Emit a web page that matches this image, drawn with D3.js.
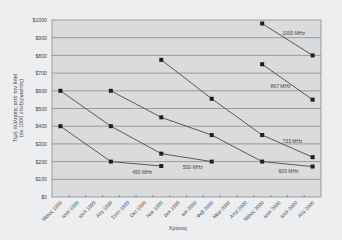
<!DOCTYPE html>
<html>
<head>
<meta charset="utf-8">
<script src="https://cdn.jsdelivr.net/npm/d3@7"></script>
<style>
  body { margin: 0; background: #eceef0; }
  text { font-family: "Liberation Sans", Arial, sans-serif; fill: #444; }
</style>
</head>
<body>
<div id="graph"></div>
<script>
const width = 342;
const height = 240;
const margin = { top: 20, right: 21, bottom: 43, left: 52 };

// months on the x axis
const months = ["Μάιος 1999", "Ιούν 1999", "Ιούλ 1999", "Αύγ 1999", "Σεπτ 1999", "Οκτ 1999",
  "Νοε 1999", "Δεκ 1999", "Ιαν 2000", "Φεβ 2000", "Μαρ 2000", "Απρ 2000",
  "Μάιος 2000", "Ιούν 2000", "Ιούλ 2000", "Αύγ 2000"];
const y_ticks = [0, 100, 200, 300, 400, 500, 600, 700, 800, 900, 1000];

// one list of months and one of prices per processor
const names = ["450 MHz", "500 MHz", "600 MHz", "733 MHz", "867 MHz", "1000 MHz"];
const months_450 = ["Μάιος 1999", "Αύγ 1999", "Νοε 1999"];
const price_450 = [400, 200, 175];
const months_500 = ["Μάιος 1999", "Αύγ 1999", "Νοε 1999", "Φεβ 2000"];
const price_500 = [600, 400, 245, 200];
const months_600 = ["Αύγ 1999", "Νοε 1999", "Φεβ 2000", "Μάιος 2000", "Αύγ 2000"];
const price_600 = [600, 450, 350, 200, 172];
const months_733 = ["Νοε 1999", "Φεβ 2000", "Μάιος 2000", "Αύγ 2000"];
const price_733 = [775, 555, 350, 225];
const months_867 = ["Μάιος 2000", "Αύγ 2000"];
const price_867 = [750, 550];
const months_1000 = ["Μάιος 2000", "Αύγ 2000"];
const price_1000 = [980, 800];

const all_months = [months_450, months_500, months_600, months_733, months_867, months_1000];
const all_prices = [price_450, price_500, price_600, price_733, price_867, price_1000];

// where each name sits, relative to the last point (pixels)
const label_offset = [[-19, 6], [-19, 6], [-24, 5], [-20, -16], [-32, -13], [-19, -22]];

const x = d3.scaleBand().domain(months).range([margin.left, width - margin.right]);
const y = d3.scaleLinear().domain([0, 1000]).range([height - margin.bottom, margin.top]);

const svg = d3.select('#graph')
  .append('svg')
  .attr("width", width)
  .attr("height", height);

// plot area
svg.append("rect")
  .attr("x", margin.left)
  .attr("y", margin.top)
  .attr("width", width - margin.left - margin.right)
  .attr("height", height - margin.top - margin.bottom)
  .attr("fill", "#dadbdc")
  .attr("stroke", "#8a8a8a")
  .attr("stroke-width", 0.8);

// grid lines
svg.append("g")
  .selectAll("line")
  .data(y_ticks.slice(1, -1))
  .join("line")
  .attr("x1", margin.left)
  .attr("x2", width - margin.right)
  .attr("y1", d => y(d))
  .attr("y2", d => y(d))
  .attr("stroke", "#8c8c8c")
  .attr("stroke-width", 0.8);

// y axis
const y_axis = svg.append("g")
  .attr("transform", `translate(${margin.left},0)`)
  .call(d3.axisLeft(y).tickValues(y_ticks).tickSize(0).tickPadding(5).tickFormat(d => "$" + d));
y_axis.select(".domain").remove();
y_axis.selectAll("text").style("font-size", "5.2px");

// x axis
const x_axis = svg.append("g")
  .attr("transform", `translate(0,${height - margin.bottom})`)
  .call(d3.axisBottom(x).tickSize(0).tickPadding(0));
x_axis.select(".domain").remove();
x_axis.selectAll("text")
  .style("font-size", "5px")
  .attr("text-anchor", "end")
  .attr("dy", 0)
  .attr("transform", "translate(2,6) rotate(-45)");

// small tick marks between months
svg.append("g")
  .selectAll("line")
  .data(months.slice(1))
  .join("line")
  .attr("x1", d => x(d))
  .attr("x2", d => x(d))
  .attr("y1", height - margin.bottom)
  .attr("y2", height - margin.bottom - 2)
  .attr("stroke", "#777")
  .attr("stroke-width", 0.8);

// titles
svg.append("text")
  .attr("transform", "translate(17,108) rotate(-90)")
  .attr("text-anchor", "middle")
  .style("font-size", "5.5px")
  .text("Τιμή πώλησης από την Intel");
svg.append("text")
  .attr("transform", "translate(23,108) rotate(-90)")
  .attr("text-anchor", "middle")
  .style("font-size", "5.5px")
  .text("(σε 1000 επεξεργαστές)");
svg.append("text")
  .attr("x", 178)
  .attr("y", 230)
  .attr("text-anchor", "middle")
  .style("font-size", "5.5px")
  .text("Χρόνος");

const line = d3.line()
  .x(d => x(d[0]) + x.bandwidth() / 2)
  .y(d => y(d[1]));

for (let i = 0; i < names.length; i++) {
  let pts = all_months[i].map((m, j) => [m, all_prices[i][j]]);
  svg.append("path")
    .attr("d", line(pts))
    .attr("fill", "none")
    .attr("stroke", "#4a4a4a")
    .attr("stroke-width", 0.9);

  svg.append("g")
    .selectAll("rect")
    .data(pts)
    .join("rect")
    .attr("x", d => x(d[0]) + x.bandwidth() / 2 - 2)
    .attr("y", d => y(d[1]) - 2)
    .attr("width", 4)
    .attr("height", 4)
    .attr("fill", "#1e1e1e");

  let last = pts[pts.length - 1];
  svg.append("text")
    .attr("x", x(last[0]) + x.bandwidth() / 2 + label_offset[i][0])
    .attr("y", y(last[1]) + label_offset[i][1])
    .attr("text-anchor", "middle")
    .attr("dy", "0.35em")
    .style("font-size", "5px")
    .text(names[i]);
}
</script>
</body>
</html>
